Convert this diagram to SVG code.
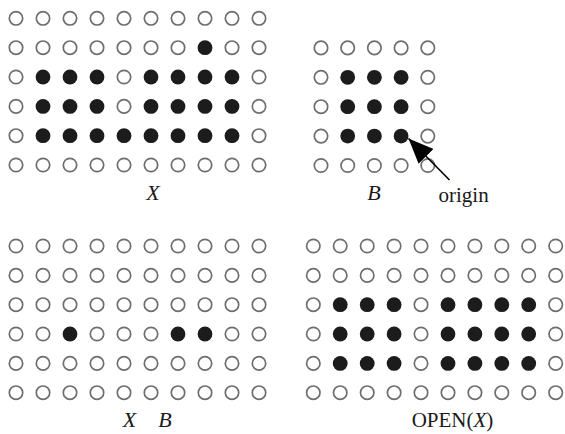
<svg xmlns="http://www.w3.org/2000/svg" xmlns:xlink="http://www.w3.org/1999/xlink" width="565" height="434" viewBox="0 0 565 434">
  <style>
    .lbl { font-family: "Liberation Serif", "Times New Roman", serif; font-size: 21px; fill: #1a1a1a; }
    .it { font-style: italic; font-size: 22px; }
  </style>
  <defs>
    <!-- empty pixel -->
    <circle id="o" r="6.7" fill="#fff" stroke="#6e6e6e" stroke-width="1.7"/>
    <!-- set pixel -->
    <circle id="f" r="7.4" fill="#1c1c1c"/>
    <marker id="ah" markerUnits="userSpaceOnUse" markerWidth="26" markerHeight="21" refX="25" refY="10.5" orient="auto">
      <path d="M0,0 L25,10.5 L0,21 z" fill="#000"/>
    </marker>
  </defs>

  <!-- image X: 10 x 6 -->
  <g id="imageX">
    <use href="#o" x="16" y="18.3"/><use href="#o" x="43" y="18.3"/><use href="#o" x="70" y="18.3"/><use href="#o" x="97" y="18.3"/><use href="#o" x="124" y="18.3"/><use href="#o" x="151" y="18.3"/><use href="#o" x="178" y="18.3"/><use href="#o" x="205" y="18.3"/><use href="#o" x="232" y="18.3"/><use href="#o" x="259" y="18.3"/>
    <use href="#o" x="16" y="47.7"/><use href="#o" x="43" y="47.7"/><use href="#o" x="70" y="47.7"/><use href="#o" x="97" y="47.7"/><use href="#o" x="124" y="47.7"/><use href="#o" x="151" y="47.7"/><use href="#o" x="178" y="47.7"/><use href="#f" x="205" y="47.7"/><use href="#o" x="232" y="47.7"/><use href="#o" x="259" y="47.7"/>
    <use href="#o" x="16" y="77"/><use href="#f" x="43" y="77"/><use href="#f" x="70" y="77"/><use href="#f" x="97" y="77"/><use href="#o" x="124" y="77"/><use href="#f" x="151" y="77"/><use href="#f" x="178" y="77"/><use href="#f" x="205" y="77"/><use href="#f" x="232" y="77"/><use href="#o" x="259" y="77"/>
    <use href="#o" x="16" y="106.4"/><use href="#f" x="43" y="106.4"/><use href="#f" x="70" y="106.4"/><use href="#f" x="97" y="106.4"/><use href="#o" x="124" y="106.4"/><use href="#f" x="151" y="106.4"/><use href="#f" x="178" y="106.4"/><use href="#f" x="205" y="106.4"/><use href="#f" x="232" y="106.4"/><use href="#o" x="259" y="106.4"/>
    <use href="#o" x="16" y="135.7"/><use href="#f" x="43" y="135.7"/><use href="#f" x="70" y="135.7"/><use href="#f" x="97" y="135.7"/><use href="#f" x="124" y="135.7"/><use href="#f" x="151" y="135.7"/><use href="#f" x="178" y="135.7"/><use href="#f" x="205" y="135.7"/><use href="#f" x="232" y="135.7"/><use href="#o" x="259" y="135.7"/>
    <use href="#o" x="16" y="165"/><use href="#o" x="43" y="165"/><use href="#o" x="70" y="165"/><use href="#o" x="97" y="165"/><use href="#o" x="124" y="165"/><use href="#o" x="151" y="165"/><use href="#o" x="178" y="165"/><use href="#o" x="205" y="165"/><use href="#o" x="232" y="165"/><use href="#o" x="259" y="165"/>
    <text class="lbl it" x="153" y="200" text-anchor="middle">X</text>
  </g>

  <!-- structuring element B: 5 x 5 -->
  <g id="elementB">
    <use href="#o" x="321" y="47.9"/><use href="#o" x="347.7" y="47.9"/><use href="#o" x="374.4" y="47.9"/><use href="#o" x="401.1" y="47.9"/><use href="#o" x="427.8" y="47.9"/>
    <use href="#o" x="321" y="77.3"/><use href="#f" x="347.7" y="77.3"/><use href="#f" x="374.4" y="77.3"/><use href="#f" x="401.1" y="77.3"/><use href="#o" x="427.8" y="77.3"/>
    <use href="#o" x="321" y="106.7"/><use href="#f" x="347.7" y="106.7"/><use href="#f" x="374.4" y="106.7"/><use href="#f" x="401.1" y="106.7"/><use href="#o" x="427.8" y="106.7"/>
    <use href="#o" x="321" y="136.1"/><use href="#f" x="347.7" y="136.1"/><use href="#f" x="374.4" y="136.1"/><use href="#f" x="401.1" y="136.1"/><use href="#o" x="427.8" y="136.1"/>
    <use href="#o" x="321" y="165.5"/><use href="#o" x="347.7" y="165.5"/><use href="#o" x="374.4" y="165.5"/><use href="#o" x="401.1" y="165.5"/><use href="#o" x="427.8" y="165.5"/>
    <text class="lbl it" x="374" y="200" text-anchor="middle">B</text>
  </g>

  <g id="originLabel">
    <text class="lbl" x="438.5" y="201.5">origin</text>
  </g>

  <!-- image eroded by B -->
  <g id="erosion">
    <use href="#o" x="16" y="246"/><use href="#o" x="43" y="246"/><use href="#o" x="70" y="246"/><use href="#o" x="97" y="246"/><use href="#o" x="124" y="246"/><use href="#o" x="151" y="246"/><use href="#o" x="178" y="246"/><use href="#o" x="205" y="246"/><use href="#o" x="232" y="246"/><use href="#o" x="259" y="246"/>
    <use href="#o" x="16" y="275.4"/><use href="#o" x="43" y="275.4"/><use href="#o" x="70" y="275.4"/><use href="#o" x="97" y="275.4"/><use href="#o" x="124" y="275.4"/><use href="#o" x="151" y="275.4"/><use href="#o" x="178" y="275.4"/><use href="#o" x="205" y="275.4"/><use href="#o" x="232" y="275.4"/><use href="#o" x="259" y="275.4"/>
    <use href="#o" x="16" y="304.7"/><use href="#o" x="43" y="304.7"/><use href="#o" x="70" y="304.7"/><use href="#o" x="97" y="304.7"/><use href="#o" x="124" y="304.7"/><use href="#o" x="151" y="304.7"/><use href="#o" x="178" y="304.7"/><use href="#o" x="205" y="304.7"/><use href="#o" x="232" y="304.7"/><use href="#o" x="259" y="304.7"/>
    <use href="#o" x="16" y="334"/><use href="#o" x="43" y="334"/><use href="#f" x="70" y="334"/><use href="#o" x="97" y="334"/><use href="#o" x="124" y="334"/><use href="#o" x="151" y="334"/><use href="#f" x="178" y="334"/><use href="#f" x="205" y="334"/><use href="#o" x="232" y="334"/><use href="#o" x="259" y="334"/>
    <use href="#o" x="16" y="363.4"/><use href="#o" x="43" y="363.4"/><use href="#o" x="70" y="363.4"/><use href="#o" x="97" y="363.4"/><use href="#o" x="124" y="363.4"/><use href="#o" x="151" y="363.4"/><use href="#o" x="178" y="363.4"/><use href="#o" x="205" y="363.4"/><use href="#o" x="232" y="363.4"/><use href="#o" x="259" y="363.4"/>
    <use href="#o" x="16" y="392.7"/><use href="#o" x="43" y="392.7"/><use href="#o" x="70" y="392.7"/><use href="#o" x="97" y="392.7"/><use href="#o" x="124" y="392.7"/><use href="#o" x="151" y="392.7"/><use href="#o" x="178" y="392.7"/><use href="#o" x="205" y="392.7"/><use href="#o" x="232" y="392.7"/><use href="#o" x="259" y="392.7"/>
    <text class="lbl it" x="129.5" y="426.5" text-anchor="middle">X</text>
    <text class="lbl it" x="165" y="426.5" text-anchor="middle">B</text>
  </g>

  <!-- opening of X -->
  <g id="openX">
    <use href="#o" x="313.3" y="246"/><use href="#o" x="340.2" y="246"/><use href="#o" x="367.2" y="246"/><use href="#o" x="394.1" y="246"/><use href="#o" x="421" y="246"/><use href="#o" x="448" y="246"/><use href="#o" x="474.9" y="246"/><use href="#o" x="501.8" y="246"/><use href="#o" x="528.7" y="246"/><use href="#o" x="555.7" y="246"/>
    <use href="#o" x="313.3" y="275.4"/><use href="#o" x="340.2" y="275.4"/><use href="#o" x="367.2" y="275.4"/><use href="#o" x="394.1" y="275.4"/><use href="#o" x="421" y="275.4"/><use href="#o" x="448" y="275.4"/><use href="#o" x="474.9" y="275.4"/><use href="#o" x="501.8" y="275.4"/><use href="#o" x="528.7" y="275.4"/><use href="#o" x="555.7" y="275.4"/>
    <use href="#o" x="313.3" y="304.7"/><use href="#f" x="340.2" y="304.7"/><use href="#f" x="367.2" y="304.7"/><use href="#f" x="394.1" y="304.7"/><use href="#o" x="421" y="304.7"/><use href="#f" x="448" y="304.7"/><use href="#f" x="474.9" y="304.7"/><use href="#f" x="501.8" y="304.7"/><use href="#f" x="528.7" y="304.7"/><use href="#o" x="555.7" y="304.7"/>
    <use href="#o" x="313.3" y="334"/><use href="#f" x="340.2" y="334"/><use href="#f" x="367.2" y="334"/><use href="#f" x="394.1" y="334"/><use href="#o" x="421" y="334"/><use href="#f" x="448" y="334"/><use href="#f" x="474.9" y="334"/><use href="#f" x="501.8" y="334"/><use href="#f" x="528.7" y="334"/><use href="#o" x="555.7" y="334"/>
    <use href="#o" x="313.3" y="363.4"/><use href="#f" x="340.2" y="363.4"/><use href="#f" x="367.2" y="363.4"/><use href="#f" x="394.1" y="363.4"/><use href="#o" x="421" y="363.4"/><use href="#f" x="448" y="363.4"/><use href="#f" x="474.9" y="363.4"/><use href="#f" x="501.8" y="363.4"/><use href="#f" x="528.7" y="363.4"/><use href="#o" x="555.7" y="363.4"/>
    <use href="#o" x="313.3" y="392.7"/><use href="#o" x="340.2" y="392.7"/><use href="#o" x="367.2" y="392.7"/><use href="#o" x="394.1" y="392.7"/><use href="#o" x="421" y="392.7"/><use href="#o" x="448" y="392.7"/><use href="#o" x="474.9" y="392.7"/><use href="#o" x="501.8" y="392.7"/><use href="#o" x="528.7" y="392.7"/><use href="#o" x="555.7" y="392.7"/>
    <text class="lbl" x="452.5" y="426.5" text-anchor="middle">OPEN(<tspan font-style="italic">X</tspan>)</text>
  </g>

  <!-- pointer from the label to the origin pixel -->
  <g id="connectors">
    <line x1="449.5" y1="180" x2="408.5" y2="138.5" stroke="#000" stroke-width="1.6" marker-end="url(#ah)"/>
  </g>
</svg>
